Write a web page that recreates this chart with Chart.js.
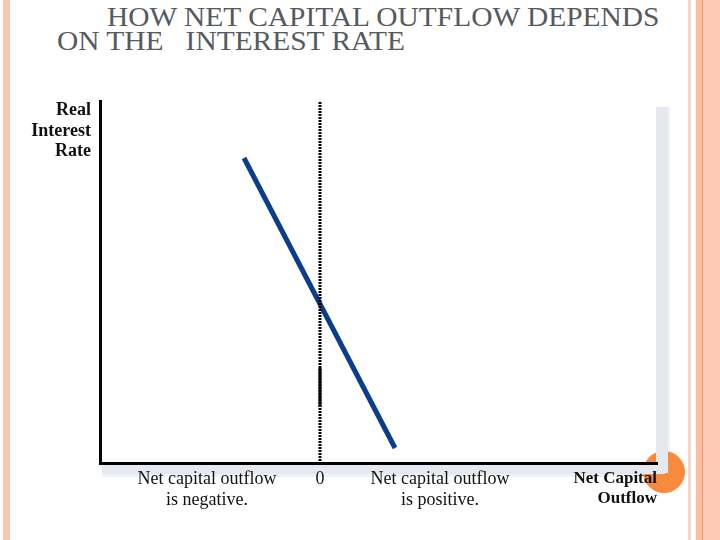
<!DOCTYPE html>
<html>
<head>
<meta charset="utf-8">
<script src="https://cdn.jsdelivr.net/npm/chart.js@4/dist/chart.umd.min.js"></script>
<style>
  html, body { margin: 0; padding: 0; background: #fff; }
  #slide { position: relative; width: 720px; height: 540px; overflow: hidden; background: #fff; }
  .stripe { position: absolute; top: 0; height: 540px; }
  .title {
    position: absolute;
    font-family: "Liberation Serif", serif; font-size: 27px; line-height: 24px;
    color: #555a60; white-space: pre; transform: scaleX(1.09); transform-origin: left top;
  }
  #chart { position: absolute; left: 0; top: 0; }
</style>
</head>
<body>
<div id="slide">
  <div class="stripe" style="left:3px;width:7px;background:#f8c7b4"></div>
  <div class="stripe" style="left:688px;width:3px;background:#f6d6ca"></div>
  <div class="stripe" style="left:696px;width:24px;background:#fdcab6"></div>
  <div class="stripe" style="left:696px;width:6px;background:#fbbfa6"></div>
  <div class="stripe" style="left:702px;width:1px;background:#e79a72"></div>
  <div class="title" style="left:107px;top:5px">HOW NET CAPITAL OUTFLOW DEPENDS</div>
  <div class="title" style="left:57px;top:29px">ON THE   INTEREST RATE</div>
  <canvas id="chart" width="720" height="540"></canvas>
</div>
<script>
// net capital outflow curve (x = NCO, y = real interest rate)
var curveX = [-0.76, 0.75];
var curveY = [3.05, 0.15];
// vertical line at zero NCO
var zeroDottedY = [0.02, 3.62];
var zeroSolidY = [0.56, 0.95];
// axis labels
var xTickValues = [-1.13, 0, 1.2];
var xTickLabels = [['Net capital outflow', 'is negative.'], '0', ['Net capital outflow', 'is positive.']];
var yTickValues = [3.32];
var yTickLabels = [['Real', 'Interest', 'Rate']];
var xTitle = ['Net Capital', 'Outflow'];

function toPoints(xs, ys) {
    return xs.map(function (x, i) { return { x: x, y: ys[i] }; });
}

// grey drop shadow of the graph box and the orange dot, drawn under everything
var decoPlugin = {
    id: 'deco',
    beforeDraw: function (chart) {
        var ctx = chart.ctx, a = chart.chartArea;
        ctx.save();
        ctx.fillStyle = '#f1f2f6';
        ctx.fillRect(a.right + 11, a.top + 6, 2, a.bottom - a.top + 8);
        ctx.fillRect(a.left + 2, a.bottom + 11, a.right - a.left + 9, 3);
        ctx.beginPath();
        ctx.arc(a.right + 7, a.bottom + 9, 21, 0, Math.PI * 2);
        ctx.fillStyle = '#f68b3d';
        ctx.fill();
        ctx.fillStyle = '#e6e8ef';
        ctx.fillRect(a.right - 1, a.top + 6, 12, a.bottom - a.top + 4);
        ctx.fillRect(a.left + 2, a.bottom + 2, a.right - a.left + 6, 9);
        ctx.restore();
    }
};

var config = {
    type: 'scatter',
    data: {
        datasets: [{
            data: toPoints([0, 0], zeroDottedY),
            showLine: true,
            borderColor: '#000',
            borderWidth: 3,
            borderDash: [2, 1],
            pointRadius: 0
        }, {
            data: toPoints([0, 0], zeroSolidY),
            showLine: true,
            borderColor: '#000',
            borderWidth: 3,
            pointRadius: 0
        }, {
            data: toPoints(curveX, curveY),
            showLine: true,
            borderColor: '#0b3d8c',
            borderWidth: 5,
            pointRadius: 0
        }]
    },
    options: {
        responsive: false,
        animation: false,
        layout: { padding: { left: 0, top: 101, right: 63, bottom: 0 } },
        plugins: {
            legend: { display: false },
            tooltip: { enabled: false }
        },
        scales: {
            x: {
                type: 'linear',
                min: -2.2,
                max: 3.37,
                grid: { display: false, drawTicks: false },
                border: { display: true, color: '#000', width: 3 },
                afterBuildTicks: function (scale) {
                    scale.ticks = xTickValues.map(function (v) { return { value: v }; });
                },
                afterFit: function (scale) { scale.height = 77; },
                ticks: {
                    autoSkip: false,
                    maxRotation: 0,
                    padding: 6,
                    color: '#111',
                    font: { family: 'Liberation Serif', size: 18, lineHeight: 1.17 },
                    callback: function (v, i) { return xTickLabels[i]; }
                },
                title: {
                    display: true,
                    text: xTitle,
                    align: 'end',
                    color: '#111',
                    font: { family: 'Liberation Serif', size: 17, weight: 'bold', lineHeight: 1.2 },
                    padding: { top: 0, bottom: 31 }
                }
            },
            y: {
                type: 'linear',
                min: 0,
                max: 3.62,
                grid: { display: false, drawTicks: false },
                border: { display: true, color: '#000', width: 3 },
                afterBuildTicks: function (scale) {
                    scale.ticks = yTickValues.map(function (v) { return { value: v }; });
                },
                afterFit: function (scale) { scale.width = 100; },
                ticks: {
                    autoSkip: false,
                    padding: 9,
                    color: '#111',
                    font: { family: 'Liberation Serif', size: 18, weight: 'bold', lineHeight: 1.13 },
                    callback: function (v, i) { return yTickLabels[i]; }
                }
            }
        }
    },
    plugins: [decoPlugin]
};

var ctx = document.getElementById('chart').getContext('2d');
new Chart(ctx, config);
</script>
</body>
</html>
